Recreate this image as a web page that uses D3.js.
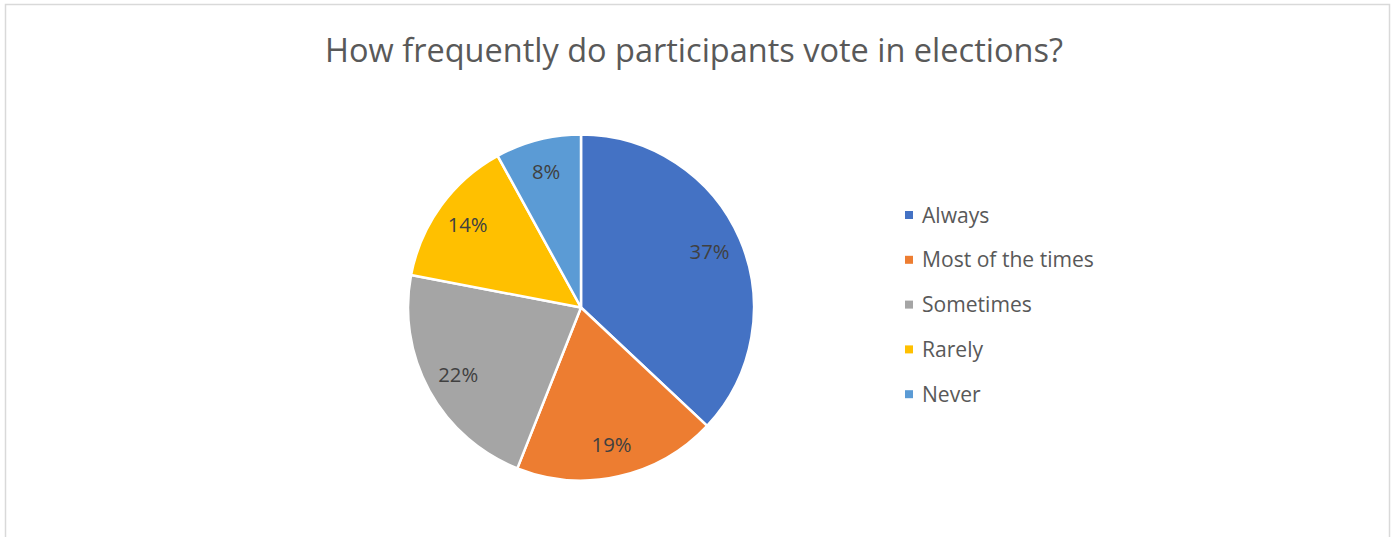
<!DOCTYPE html>
<html>
<head>
<meta charset="utf-8">
<script src="https://cdn.jsdelivr.net/npm/d3@7"></script>
<style>
  html, body { margin: 0; padding: 0; background: #fff; }
  svg { display: block; }
  text { font-family: "Open Sans", "Noto Sans", sans-serif; }
</style>
</head>
<body>
<svg id="chart" width="1395" height="537"></svg>
<script>
// Survey answers and their shares (percent)
const categories = ["Always", "Most of the times", "Sometimes", "Rarely", "Never"];
const shares = [37, 19, 22, 14, 8];
const colors = ["#4472C4", "#ED7D31", "#A5A5A5", "#FFC000", "#5B9BD5"];
const title = "How frequently do participants vote in elections?";

const W = 1395, H = 537;
const svg = d3.select("#chart");

// Chart frame
svg.append("rect")
  .attr("x", 5.5).attr("y", 4.5)
  .attr("width", 1384).attr("height", H + 10)
  .attr("fill", "#fff")
  .attr("stroke", "#d9d9d9")
  .attr("stroke-width", 1.5);

// Scale a text element's font so its rendered width equals the target
function fitWidth(sel, target) {
  const node = sel.node();
  const fs = parseFloat(sel.attr("font-size"));
  const w = node.getComputedTextLength();
  sel.attr("font-size", (fs * target / w).toFixed(2));
}

// Title
const t = svg.append("text")
  .attr("x", 694).attr("y", 62)
  .attr("text-anchor", "middle")
  .attr("font-size", 30)
  .attr("fill", "#595959")
  .text(title);
fitWidth(t, 738);

// Pie
const cx = 581, cy = 307.5, R = 173;
const pie = d3.pie().value(d => d.value).sort(null);
const data = categories.map((c, i) => ({ name: c, value: shares[i], color: colors[i] }));
const arcs = pie(data);
const arc = d3.arc().innerRadius(0).outerRadius(R);
const labelArc = d3.arc().innerRadius(R * 0.81).outerRadius(R * 0.81);

const g = svg.append("g").attr("transform", `translate(${cx},${cy})`);
g.selectAll("path.slice")
  .data(arcs)
  .join("path")
  .attr("class", "slice")
  .attr("d", arc)
  .attr("fill", d => d.data.color)
  .attr("stroke", "#fff")
  .attr("stroke-width", 2.5)
  .attr("stroke-linejoin", "round");

const labels = g.selectAll("text.pct")
  .data(arcs)
  .join("text")
  .attr("class", "pct")
  .attr("transform", d => `translate(${labelArc.centroid(d)})`)
  .attr("text-anchor", "middle")
  .attr("dy", "0.36em")
  .attr("font-size", 18)
  .attr("fill", "#404040")
  .text(d => d.data.value + "%");
// size labels from the "37%" label width
{
  const first = labels.filter((d, i) => i === 0);
  const w = first.node().getComputedTextLength();
  labels.attr("font-size", (18 * 40 / w).toFixed(2));
}

// Legend
const legend = svg.append("g").attr("transform", "translate(905,215)");
const rowGap = 44.8;
const items = legend.selectAll("g.item")
  .data(data)
  .join("g")
  .attr("class", "item")
  .attr("transform", (d, i) => `translate(0,${i * rowGap})`);
items.append("rect")
  .attr("x", 0).attr("y", -4)
  .attr("width", 8).attr("height", 8)
  .attr("fill", d => d.color);
const ltext = items.append("text")
  .attr("x", 17).attr("y", 0)
  .attr("dy", "0.36em")
  .attr("font-size", 18)
  .attr("fill", "#595959")
  .text(d => d.name);
{
  const ref = ltext.filter((d, i) => i === 1);
  const w = ref.node().getComputedTextLength();
  ltext.attr("font-size", (18 * 172 / w).toFixed(2));
}
</script>
</body>
</html>
